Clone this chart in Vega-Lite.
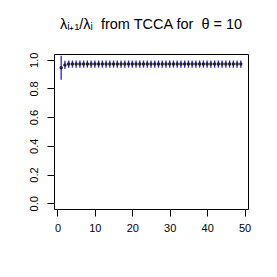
{
  "$schema": "https://vega.github.io/schema/vega-lite/v6.json",
  "width": 194,
  "height": 155,
  "autosize": {"type": "none"},
  "padding": {"left": 54, "top": 54, "right": 29, "bottom": 68},
  "background": "white",
  "config": {
    "view": {"stroke": "black", "strokeWidth": 1},
    "font": "Liberation Sans",
    "axis": {"grid": false, "domain": false, "tickColor": "black", "tickSize": 7, "labelColor": "black", "labelFontSize": 11, "labelFont": "Liberation Sans", "titleFontSize": 0, "labelOverlap": false}
  },
  "title": {"text": "λᵢ₊₁/λᵢ\u00a0 from TCCA for\u00a0 θ = 10", "fontSize": 14.5, "fontWeight": "normal", "font": "Liberation Sans", "offset": 20, "anchor": "middle", "color": "black"},
  "data": {"values": [
    {"i":1,"v":0.944,"lo":0.861,"hi":1.027},
    {"i":2,"v":0.963,"lo":0.935,"hi":0.993},
    {"i":3,"v":0.97,"lo":0.945,"hi":0.995},
    {"i":4,"v":0.97,"lo":0.945,"hi":0.995},
    {"i":5,"v":0.97,"lo":0.945,"hi":0.995},
    {"i":6,"v":0.97,"lo":0.945,"hi":0.995},
    {"i":7,"v":0.97,"lo":0.945,"hi":0.995},
    {"i":8,"v":0.97,"lo":0.945,"hi":0.995},
    {"i":9,"v":0.97,"lo":0.945,"hi":0.995},
    {"i":10,"v":0.97,"lo":0.945,"hi":0.995},
    {"i":11,"v":0.97,"lo":0.945,"hi":0.995},
    {"i":12,"v":0.97,"lo":0.945,"hi":0.995},
    {"i":13,"v":0.97,"lo":0.945,"hi":0.995},
    {"i":14,"v":0.97,"lo":0.945,"hi":0.995},
    {"i":15,"v":0.97,"lo":0.945,"hi":0.995},
    {"i":16,"v":0.97,"lo":0.945,"hi":0.995},
    {"i":17,"v":0.97,"lo":0.945,"hi":0.995},
    {"i":18,"v":0.97,"lo":0.945,"hi":0.995},
    {"i":19,"v":0.97,"lo":0.945,"hi":0.995},
    {"i":20,"v":0.97,"lo":0.945,"hi":0.995},
    {"i":21,"v":0.97,"lo":0.945,"hi":0.995},
    {"i":22,"v":0.97,"lo":0.945,"hi":0.995},
    {"i":23,"v":0.97,"lo":0.945,"hi":0.995},
    {"i":24,"v":0.97,"lo":0.945,"hi":0.995},
    {"i":25,"v":0.97,"lo":0.945,"hi":0.995},
    {"i":26,"v":0.97,"lo":0.945,"hi":0.995},
    {"i":27,"v":0.97,"lo":0.945,"hi":0.995},
    {"i":28,"v":0.97,"lo":0.945,"hi":0.995},
    {"i":29,"v":0.97,"lo":0.945,"hi":0.995},
    {"i":30,"v":0.97,"lo":0.945,"hi":0.995},
    {"i":31,"v":0.97,"lo":0.945,"hi":0.995},
    {"i":32,"v":0.97,"lo":0.945,"hi":0.995},
    {"i":33,"v":0.97,"lo":0.945,"hi":0.995},
    {"i":34,"v":0.97,"lo":0.945,"hi":0.995},
    {"i":35,"v":0.97,"lo":0.945,"hi":0.995},
    {"i":36,"v":0.97,"lo":0.945,"hi":0.995},
    {"i":37,"v":0.97,"lo":0.945,"hi":0.995},
    {"i":38,"v":0.97,"lo":0.945,"hi":0.995},
    {"i":39,"v":0.97,"lo":0.945,"hi":0.995},
    {"i":40,"v":0.97,"lo":0.945,"hi":0.995},
    {"i":41,"v":0.97,"lo":0.945,"hi":0.995},
    {"i":42,"v":0.97,"lo":0.945,"hi":0.995},
    {"i":43,"v":0.97,"lo":0.945,"hi":0.995},
    {"i":44,"v":0.97,"lo":0.945,"hi":0.995},
    {"i":45,"v":0.97,"lo":0.945,"hi":0.995},
    {"i":46,"v":0.97,"lo":0.945,"hi":0.995},
    {"i":47,"v":0.97,"lo":0.945,"hi":0.995},
    {"i":48,"v":0.97,"lo":0.945,"hi":0.995},
    {"i":49,"v":0.97,"lo":0.945,"hi":0.995}
  ]},
  "encoding": {
    "x": {"field": "i", "type": "quantitative", "scale": {"domain": [-0.92, 50.92], "nice": false, "zero": false},
          "axis": {"values": [0,10,20,30,40,50], "labelPadding": 6, "labelOverlap": false, "labelFlush": false, "labelBound": false, "title": null}}
  },
  "layer": [
    {
      "mark": {"type": "rule", "color": "#2222ee", "strokeWidth": 1.3, "clip": true},
      "encoding": {
        "y": {"field": "lo", "type": "quantitative", "scale": {"domain": [-0.04, 1.04], "nice": false, "zero": false},
              "axis": {"values": [0,0.2,0.4,0.6,0.8,1.0], "format": ".1f", "labelAngle": -90, "labelAlign": "center", "labelBaseline": "bottom", "labelPadding": 8, "labelOverlap": false, "labelFlush": false, "labelBound": false, "title": null}},
        "y2": {"field": "hi"}
      }
    },
    {
      "mark": {"type": "point", "filled": true, "color": "#222222", "size": 12, "opacity": 1},
      "encoding": {
        "y": {"field": "v", "type": "quantitative", "scale": {"domain": [-0.04, 1.04], "nice": false, "zero": false},
              "axis": {"values": [0,0.2,0.4,0.6,0.8,1.0], "format": ".1f", "labelAngle": -90, "labelAlign": "center", "labelBaseline": "bottom", "labelPadding": 8, "labelOverlap": false, "labelFlush": false, "labelBound": false, "title": null}}
      }
    }
  ]
}
